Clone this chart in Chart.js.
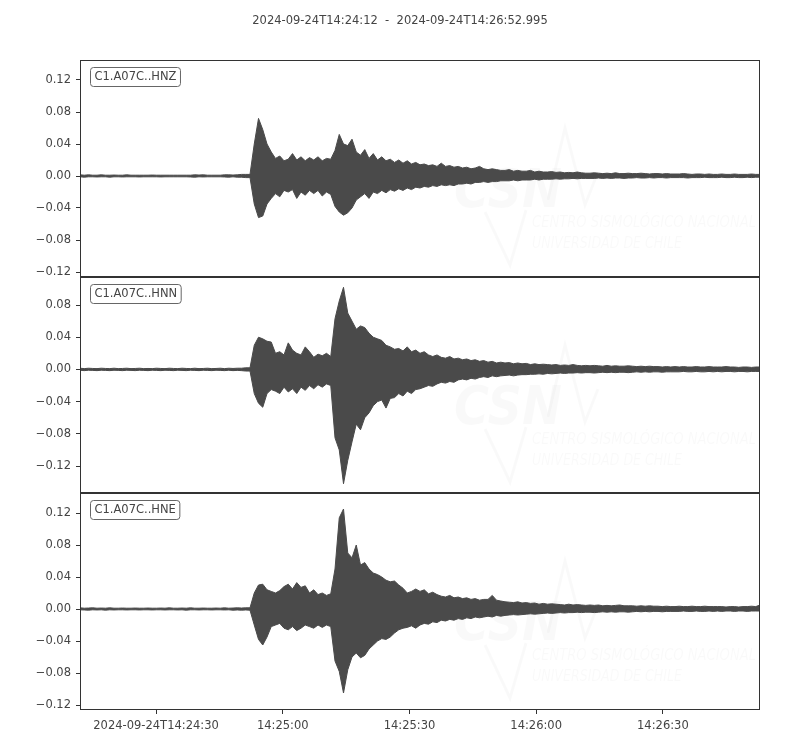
<!DOCTYPE html>
<html>
<head>
<meta charset="utf-8">
<script src="https://cdn.jsdelivr.net/npm/chart.js@4/dist/chart.umd.min.js"></script>
<style>
html,body{margin:0;padding:0;background:#ffffff;}
#wrap{position:relative;width:800px;height:750px;}
#wrap canvas{position:absolute;left:0;top:0;}
</style>
</head>
<body>
<div id="wrap">
<canvas id="c1" width="800" height="750"></canvas>
<canvas id="c2" width="800" height="750"></canvas>
<canvas id="c3" width="800" height="750"></canvas>
</div>
<script>
// ---- DATA (envelope per 1-second bin) ----
const titleText = "2024-09-24T14:24:12  -  2024-09-24T14:26:52.995";
const durationSec = 160.995;
const channelNames = ["C1.A07C..HNZ", "C1.A07C..HNN", "C1.A07C..HNE"];

const xTickSeconds = [18, 48, 78, 108, 138];
const xTickLabels = ["2024-09-24T14:24:30", "14:25:00", "14:25:30", "14:26:00", "14:26:30"];

const yTicksHNZ = [-0.12, -0.08, -0.04, 0.00, 0.04, 0.08, 0.12];
const yTicksHNN = [-0.12, -0.08, -0.04, 0.00, 0.04, 0.08];
const yTicksHNE = [-0.12, -0.08, -0.04, 0.00, 0.04, 0.08, 0.12];
const yRangeHNZ = [-0.12625, 0.145];
const yRangeHNN = [-0.1535, 0.1148];
const yRangeHNE = [-0.12625, 0.145];

const hnzMax = [
0.0015,0.001,0.0015,0.001,0.001,0.0015,0.001,0.001,0.0012,0.001,
0.001,0.0015,0.001,0.001,0.001,0.001,0.001,0.0012,0.001,0.001,
0.001,0.001,0.001,0.001,0.001,0.001,0.001,0.0015,0.0012,0.0015,
0.001,0.001,0.001,0.001,0.0015,0.0015,0.0012,0.0015,0.002,0.002,
0.002,0.04,0.072,0.058,0.04,0.03,0.022,0.025,0.019,0.021,
0.028,0.02,0.024,0.019,0.023,0.02,0.024,0.019,0.022,0.021,
0.032,0.052,0.04,0.038,0.046,0.03,0.026,0.033,0.022,0.028,
0.02,0.024,0.019,0.021,0.017,0.02,0.016,0.019,0.015,0.017,
0.014,0.015,0.013,0.014,0.012,0.016,0.012,0.013,0.011,0.012,
0.01,0.011,0.009,0.01,0.012,0.009,0.008,0.009,0.008,0.007,
0.007,0.008,0.006,0.007,0.006,0.006,0.007,0.005,0.006,0.005,
0.005,0.0055,0.0045,0.005,0.004,0.0045,0.004,0.005,0.004,0.0035,
0.0035,0.004,0.0035,0.003,0.0035,0.003,0.004,0.003,0.003,0.0035,
0.003,0.003,0.0035,0.003,0.0025,0.003,0.003,0.0025,0.003,0.0025,
0.0025,0.0025,0.003,0.0025,0.002,0.0025,0.0025,0.002,0.0025,0.002,
0.002,0.0025,0.002,0.002,0.0025,0.002,0.002,0.002,0.0025,0.002,
0.002];
const hnzMin = [
-0.001,-0.0015,-0.001,-0.001,-0.0012,-0.001,-0.001,-0.0015,-0.001,-0.001,
-0.0012,-0.001,-0.001,-0.001,-0.0012,-0.001,-0.001,-0.001,-0.001,-0.0012,
-0.001,-0.001,-0.001,-0.001,-0.001,-0.001,-0.0012,-0.0015,-0.001,-0.0012,
-0.001,-0.001,-0.001,-0.001,-0.0012,-0.0015,-0.001,-0.0015,-0.0015,-0.002,
-0.002,-0.035,-0.052,-0.05,-0.035,-0.028,-0.022,-0.026,-0.018,-0.02,
-0.017,-0.028,-0.02,-0.024,-0.018,-0.022,-0.018,-0.025,-0.02,-0.023,
-0.038,-0.045,-0.049,-0.046,-0.04,-0.03,-0.026,-0.022,-0.028,-0.02,
-0.022,-0.018,-0.021,-0.017,-0.019,-0.016,-0.018,-0.015,-0.017,-0.014,
-0.015,-0.013,-0.014,-0.012,-0.013,-0.011,-0.012,-0.011,-0.012,-0.01,
-0.01,-0.009,-0.01,-0.008,-0.008,-0.007,-0.008,-0.007,-0.007,-0.006,
-0.006,-0.006,-0.005,-0.006,-0.005,-0.005,-0.005,-0.004,-0.005,-0.004,
-0.004,-0.004,-0.0035,-0.004,-0.0035,-0.0035,-0.003,-0.0035,-0.003,-0.003,
-0.003,-0.003,-0.0025,-0.003,-0.0025,-0.003,-0.0025,-0.0025,-0.003,-0.0025,
-0.0025,-0.002,-0.0025,-0.0025,-0.002,-0.0025,-0.002,-0.002,-0.0025,-0.002,
-0.002,-0.002,-0.002,-0.0025,-0.002,-0.002,-0.002,-0.0015,-0.002,-0.002,
-0.002,-0.0015,-0.002,-0.002,-0.0015,-0.002,-0.002,-0.0015,-0.002,-0.0015,
-0.0015];

const hnnMax = [
0.0015,0.001,0.0015,0.0012,0.001,0.0015,0.0012,0.001,0.0015,0.001,
0.0012,0.0015,0.001,0.0012,0.0015,0.001,0.0012,0.001,0.0015,0.0012,
0.001,0.0015,0.0012,0.001,0.0015,0.0012,0.001,0.0015,0.001,0.0012,
0.0015,0.001,0.0012,0.0015,0.001,0.0015,0.0012,0.0015,0.0015,0.002,
0.002,0.03,0.04,0.038,0.035,0.034,0.02,0.022,0.018,0.033,
0.024,0.02,0.018,0.028,0.022,0.015,0.019,0.017,0.02,0.016,
0.063,0.085,0.102,0.07,0.06,0.05,0.054,0.052,0.045,0.04,
0.038,0.036,0.03,0.028,0.025,0.026,0.023,0.028,0.022,0.024,
0.02,0.022,0.018,0.016,0.018,0.015,0.014,0.016,0.013,0.014,
0.012,0.013,0.011,0.012,0.01,0.011,0.009,0.01,0.008,0.009,
0.008,0.0085,0.007,0.008,0.007,0.0075,0.006,0.007,0.006,0.0065,
0.006,0.0055,0.006,0.005,0.0055,0.005,0.006,0.005,0.0045,0.005,
0.0045,0.005,0.0045,0.004,0.005,0.004,0.0045,0.004,0.004,0.0045,
0.004,0.0035,0.004,0.0035,0.004,0.0035,0.0035,0.003,0.0035,0.003,
0.0035,0.003,0.0035,0.003,0.003,0.0035,0.003,0.003,0.0035,0.003,
0.003,0.003,0.0035,0.003,0.003,0.0025,0.003,0.003,0.0025,0.003,
0.003];
const hnnMin = [
-0.001,-0.0015,-0.001,-0.0012,-0.0015,-0.001,-0.0012,-0.0015,-0.001,-0.0012,
-0.0015,-0.001,-0.0012,-0.0015,-0.001,-0.0012,-0.0015,-0.001,-0.0012,-0.0015,
-0.001,-0.0012,-0.0015,-0.001,-0.0012,-0.0015,-0.001,-0.0012,-0.0015,-0.001,
-0.0012,-0.0015,-0.001,-0.0012,-0.0015,-0.001,-0.0015,-0.0012,-0.0015,-0.002,
-0.002,-0.03,-0.042,-0.047,-0.03,-0.025,-0.027,-0.03,-0.022,-0.028,
-0.024,-0.03,-0.022,-0.026,-0.02,-0.024,-0.019,-0.022,-0.018,-0.02,
-0.085,-0.1,-0.142,-0.113,-0.09,-0.068,-0.075,-0.06,-0.054,-0.045,
-0.04,-0.038,-0.048,-0.036,-0.035,-0.03,-0.033,-0.027,-0.03,-0.025,
-0.024,-0.022,-0.02,-0.021,-0.018,-0.016,-0.017,-0.015,-0.016,-0.013,
-0.012,-0.013,-0.011,-0.012,-0.01,-0.009,-0.01,-0.008,-0.009,-0.008,
-0.0075,-0.007,-0.008,-0.007,-0.0065,-0.0065,-0.006,-0.006,-0.0055,-0.006,
-0.005,-0.0055,-0.005,-0.0045,-0.005,-0.0045,-0.0045,-0.004,-0.0045,-0.004,
-0.004,-0.0045,-0.004,-0.0035,-0.004,-0.0035,-0.004,-0.0035,-0.0035,-0.004,
-0.0035,-0.003,-0.0035,-0.003,-0.0035,-0.003,-0.003,-0.0035,-0.003,-0.003,
-0.003,-0.003,-0.0025,-0.003,-0.003,-0.0025,-0.003,-0.003,-0.0025,-0.003,
-0.0025,-0.003,-0.0025,-0.0025,-0.003,-0.0025,-0.0025,-0.003,-0.0025,-0.0025,
-0.0025];

const hneMax = [
0.0015,0.001,0.0012,0.0015,0.001,0.0012,0.001,0.0015,0.001,0.001,
0.0012,0.001,0.001,0.0012,0.001,0.001,0.0012,0.001,0.001,0.0012,
0.001,0.0015,0.001,0.001,0.0012,0.001,0.0015,0.001,0.001,0.0012,
0.001,0.001,0.0012,0.001,0.0015,0.001,0.0012,0.0015,0.0012,0.0015,
0.0015,0.02,0.03,0.031,0.024,0.022,0.02,0.023,0.028,0.031,
0.025,0.033,0.027,0.029,0.02,0.024,0.018,0.02,0.017,0.019,
0.05,0.114,0.125,0.07,0.064,0.08,0.055,0.058,0.05,0.045,
0.043,0.04,0.036,0.034,0.035,0.03,0.026,0.02,0.022,0.025,
0.022,0.024,0.019,0.021,0.018,0.016,0.015,0.017,0.014,0.015,
0.013,0.014,0.012,0.013,0.011,0.012,0.012,0.017,0.011,0.01,
0.009,0.0085,0.008,0.009,0.0075,0.008,0.007,0.0075,0.006,0.007,
0.006,0.0065,0.006,0.0055,0.005,0.006,0.005,0.0055,0.005,0.0045,
0.005,0.0045,0.005,0.004,0.0045,0.004,0.0045,0.005,0.004,0.004,
0.004,0.0035,0.004,0.0035,0.004,0.0035,0.0035,0.003,0.0035,0.003,
0.003,0.0035,0.003,0.003,0.0035,0.003,0.003,0.0035,0.003,0.003,
0.003,0.003,0.0025,0.003,0.003,0.0025,0.003,0.003,0.0035,0.003,
0.005];
const hneMin = [
-0.001,-0.0012,-0.0015,-0.001,-0.0012,-0.001,-0.0015,-0.001,-0.0012,-0.001,
-0.001,-0.0012,-0.001,-0.001,-0.0012,-0.001,-0.001,-0.0012,-0.001,-0.001,
-0.0012,-0.001,-0.001,-0.0012,-0.001,-0.0015,-0.001,-0.001,-0.0012,-0.001,
-0.001,-0.0012,-0.001,-0.001,-0.0012,-0.001,-0.0015,-0.0012,-0.0015,-0.0012,
-0.0015,-0.02,-0.038,-0.045,-0.035,-0.022,-0.02,-0.018,-0.024,-0.026,
-0.022,-0.027,-0.024,-0.02,-0.022,-0.024,-0.02,-0.023,-0.02,-0.022,
-0.065,-0.078,-0.105,-0.076,-0.06,-0.055,-0.061,-0.058,-0.05,-0.045,
-0.04,-0.037,-0.038,-0.035,-0.03,-0.026,-0.024,-0.023,-0.021,-0.024,
-0.02,-0.018,-0.019,-0.016,-0.017,-0.014,-0.015,-0.013,-0.014,-0.012,
-0.013,-0.011,-0.012,-0.01,-0.011,-0.01,-0.009,-0.01,-0.008,-0.009,
-0.008,-0.0075,-0.007,-0.0075,-0.007,-0.0065,-0.006,-0.0065,-0.006,-0.0055,
-0.005,-0.0055,-0.005,-0.0045,-0.005,-0.0045,-0.0045,-0.004,-0.0045,-0.004,
-0.004,-0.0045,-0.004,-0.0035,-0.004,-0.0035,-0.004,-0.0035,-0.0035,-0.004,
-0.0035,-0.003,-0.0035,-0.003,-0.0035,-0.003,-0.003,-0.0035,-0.003,-0.003,
-0.003,-0.003,-0.0025,-0.003,-0.003,-0.0025,-0.003,-0.003,-0.0025,-0.003,
-0.0025,-0.003,-0.0025,-0.0025,-0.003,-0.0025,-0.0025,-0.003,-0.0025,-0.0025,
-0.0025];

// ---- STYLE ----
const TRACE = "#4a4a4a";
const AXIS = "#333333";
const TEXT = "#444444";
const FONT = '"DejaVu Sans", sans-serif';

function fmtY(v) {
  const r = Math.round(v * 100) / 100;
  const s = Math.abs(r).toFixed(2);
  return (r < 0 ? "\u2212" : "") + s;
}

const frameAndLabels = {
  id: "frameAndLabels",
  beforeDatasetsDraw(chart, args, opts) {
    const a = chart.chartArea, ctx = chart.ctx;
    const wm = "rgba(0,0,0,0.022)";
    ctx.save();
    ctx.beginPath(); ctx.rect(a.left, a.top, a.right - a.left, a.bottom - a.top); ctx.clip();
    ctx.fillStyle = wm;
    ctx.font = 'italic bold 54px "DejaVu Sans", sans-serif';
    ctx.textBaseline = "alphabetic"; ctx.textAlign = "left";
    ctx.fillText("CSN", a.left + 374, a.top + 147, 108);
    ctx.strokeStyle = wm; ctx.lineWidth = 3;
    ctx.beginPath();
    ctx.moveTo(a.left + 405, a.top + 152); ctx.lineTo(a.left + 430, a.top + 205);
    ctx.lineTo(a.left + 446, a.top + 150);
    ctx.moveTo(a.left + 468, a.top + 140); ctx.lineTo(a.left + 485, a.top + 68);
    ctx.lineTo(a.left + 505, a.top + 145); ctx.lineTo(a.left + 518, a.top + 112);
    ctx.stroke();
    ctx.font = 'italic 16px "Liberation Sans Narrow", "DejaVu Sans Condensed", sans-serif';
    ctx.textBaseline = "middle";
    ctx.fillText("CENTRO SISMOLÓGICO NACIONAL", a.left + 452, a.top + 163, 224);
    ctx.fillText("UNIVERSIDAD DE CHILE", a.left + 452, a.top + 184, 150);
    ctx.restore();
  },
  afterDraw(chart, args, opts) {
    const a = chart.chartArea, ctx = chart.ctx;
    ctx.save();
    ctx.strokeStyle = AXIS; ctx.lineWidth = 1;
    ctx.strokeRect(Math.round(a.left) + 0.5, Math.round(a.top) + 0.5,
                   Math.round(a.right - a.left) - 1, Math.round(a.bottom - a.top) - 1);
    ctx.font = "11.5px " + FONT;
    const w = ctx.measureText(opts.label).width;
    const bx = a.left + 10.5, by = a.top + 7.5, bw = w + 8, bh = 19;
    ctx.beginPath();
    ctx.roundRect(bx, by, bw, bh, 3);
    ctx.fillStyle = "#ffffff"; ctx.fill();
    ctx.strokeStyle = "#666666"; ctx.lineWidth = 1; ctx.stroke();
    ctx.fillStyle = TEXT; ctx.textBaseline = "middle"; ctx.textAlign = "left";
    ctx.fillText(opts.label, bx + 4, by + bh / 2 + 0.5);
    if (opts.title) {
      ctx.textAlign = "center";
      ctx.fillText(opts.title, 400, 21);
    }
    ctx.restore();
  }
};

function makePanel(id, label, maxArr, minArr, yRange, yTicks, padTop, padBottom, showX, title) {
  const n = maxArr.length;
  const t = maxArr.map((_, i) => i * durationSec / (n - 1));
  return new Chart(document.getElementById(id), {
    type: "line",
    data: {
      datasets: [
        { data: maxArr.map((v, i) => ({ x: t[i], y: v })), borderColor: TRACE, backgroundColor: TRACE,
          borderWidth: 1, pointRadius: 0, fill: "+1", tension: 0 },
        { data: minArr.map((v, i) => ({ x: t[i], y: v })), borderColor: TRACE, backgroundColor: TRACE,
          borderWidth: 1, pointRadius: 0, fill: false, tension: 0 }
      ]
    },
    options: {
      responsive: false, animation: false, devicePixelRatio: 1,
      layout: { padding: { left: 0, right: 40, top: padTop, bottom: padBottom } },
      plugins: { legend: { display: false }, tooltip: { enabled: false },
                 frameAndLabels: { label: label, title: title } },
      scales: {
        x: {
          type: "linear", min: 0, max: durationSec, display: showX,
          afterBuildTicks: s => { s.ticks = xTickSeconds.map(v => ({ value: v })); },
          afterFit: s => { if (showX) { s.height = 40; } else { s.height = 0; } },
          grid: { drawOnChartArea: false, tickLength: 4, color: AXIS },
          border: { display: false },
          ticks: { autoSkip: false, maxRotation: 0, padding: 5, color: TEXT,
                   font: { family: FONT, size: 11.5 },
                   callback: (v, i) => xTickLabels[i] }
        },
        y: {
          type: "linear", min: yRange[0], max: yRange[1],
          afterBuildTicks: s => { s.ticks = yTicks.map(v => ({ value: v })); },
          afterFit: s => { s.width = 80; },
          grid: { drawOnChartArea: false, tickLength: 4, color: AXIS },
          border: { display: false },
          ticks: { padding: 5, color: TEXT, font: { family: FONT, size: 11.5 },
                   callback: v => fmtY(v) }
        }
      }
    },
    plugins: [frameAndLabels]
  });
}

makePanel("c1", channelNames[0], hnzMax, hnzMin, yRangeHNZ, yTicksHNZ, 60, 473, false, titleText);
makePanel("c2", channelNames[1], hnnMax, hnnMin, yRangeHNN, yTicksHNN, 277, 257, false, null);
makePanel("c3", channelNames[2], hneMax, hneMin, yRangeHNE, yTicksHNE, 493, 0, true, null);
</script>
</body>
</html>
